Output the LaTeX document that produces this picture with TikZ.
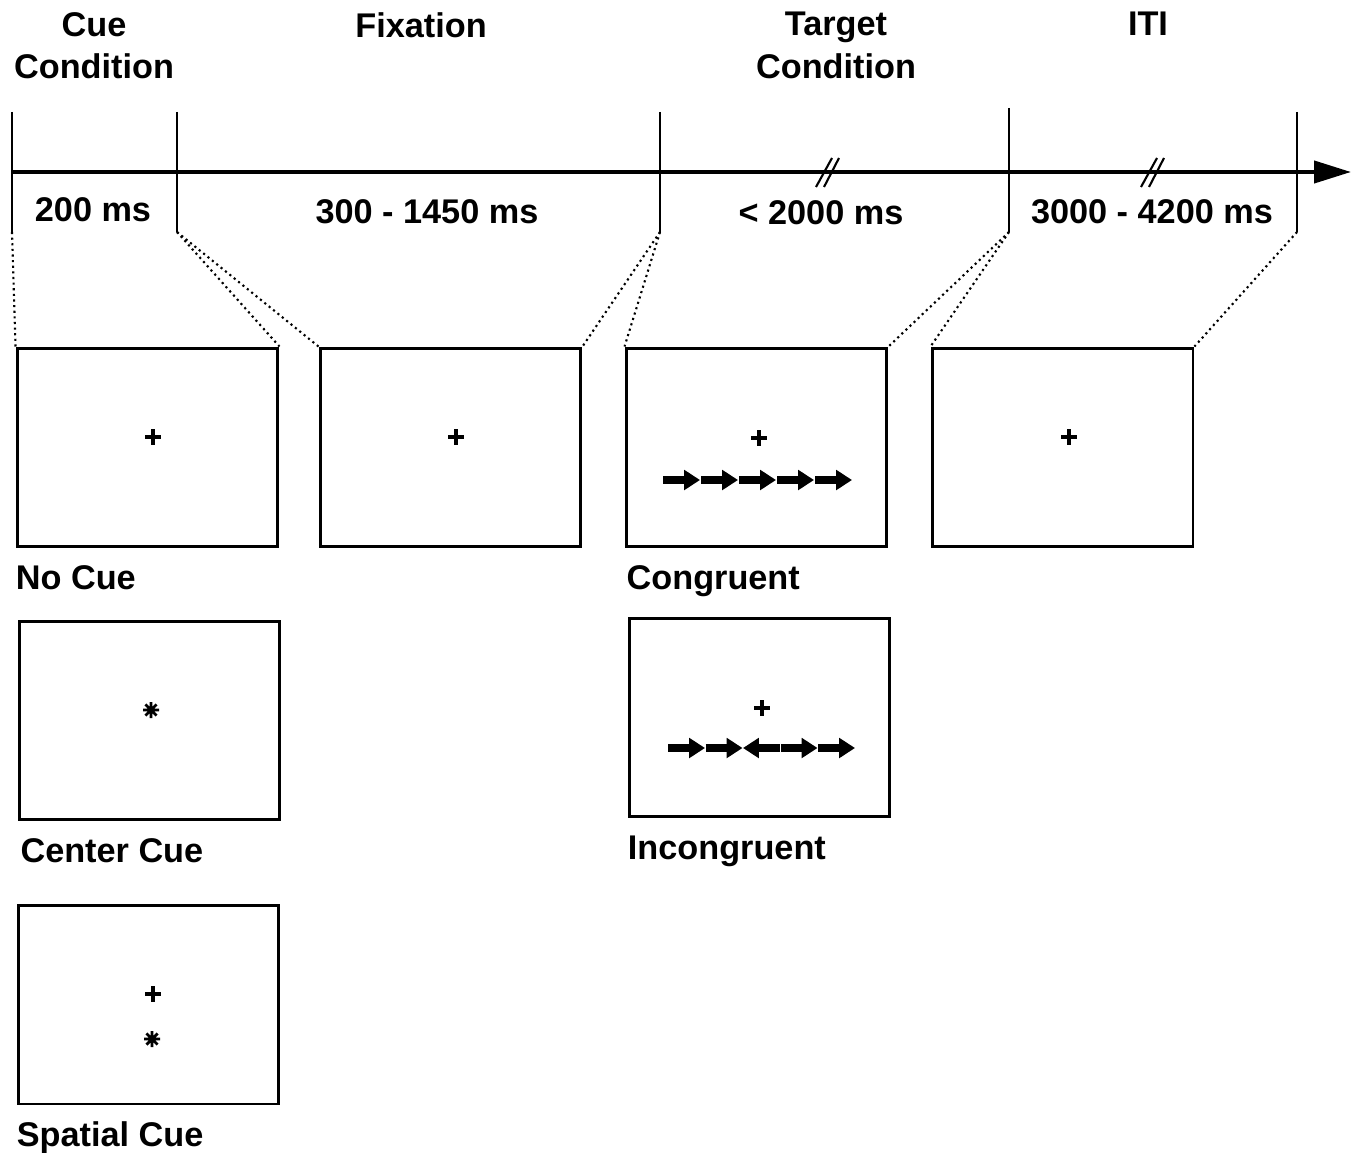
\documentclass[tikz,border=0pt]{standalone}
\usepackage{fontspec}
\setmainfont{Liberation Sans}
\usetikzlibrary{arrows.meta,calc}
\tikzset{
  screen/.style={draw=black, line width=1.7pt, minimum width=5.22cm, minimum height=3.98cm, inner sep=0pt},
  hdr/.style={font=\fontsize{19.5}{24}\selectfont\bfseries, align=center, anchor=north, inner sep=0pt},
  dur/.style={font=\fontsize{19.5}{24}\selectfont\bfseries, anchor=base, inner sep=0pt},
  scrlbl/.style={font=\fontsize{19.5}{24}\selectfont\bfseries, anchor=base west, inner sep=0pt},
  tickln/.style={line width=1.2pt},
  axis/.style={line width=2.3pt, -{Triangle[length=21pt,width=12.5pt]}},
  brk/.style={line width=1.2pt},
  zoomln/.style={dotted, line width=1.2pt},
  flk/.style={line width=4.3pt, -{Triangle[length=9pt,width=11pt]}},
  fixcross/.pic={\draw[line width=1.9pt] (-8,0) -- (8,0) (0,-8) -- (0,8);},
  cuestar/.pic={\draw[line width=1.6pt] (-8,0) -- (8,0) (0,-8) -- (0,8) (-5.6,-5.6) -- (5.6,5.6) (-5.6,5.6) -- (5.6,-5.6);},
}
\begin{document}
\begin{tikzpicture}[x=0.02cm, y=-0.02cm]
\useasboundingbox (0,0) rectangle (1358,1152);
% time axis with ticks
\coordinate (ax0) at (12,172);
\coordinate (ax1) at (1351,172);
\draw[axis] (ax0) -- (ax1);
\foreach \n/\x/\top in {0/12/112, 1/177/112, 2/660/112, 3/1009/108, 4/1297/112} {
  \coordinate (tk\n a) at (\x,\top);
  \coordinate (tk\n b) at (\x,232);
  \draw[tickln] (tk\n a) -- (tk\n b);
}
% breaks in the axis
\foreach \x in {828,1153}
  \draw[brk] (\x-12,187) -- (\x+4,158) (\x-4,187) -- (\x+11,158);
% phase headers
\node[hdr] (hcue) at (94,12)   {Cue\\Condition};
\node[hdr] (hfix) at (421,12)  {Fixation};
\node[hdr] (htgt) at (836,12)  {Target\\Condition};
\node[hdr] (hiti) at (1148,12) {ITI};
% durations
\node[dur] (dcue) at (93,221)   {200 ms};
\node[dur] (dfix) at (427,223)  {300 - 1450 ms};
\node[dur] (dtgt) at (821,224)  {< 2000 ms};
\node[dur] (diti) at (1152,223) {3000 - 4200 ms};
% screens
\node[screen] (nocue)  at (147.5,447.5)  {};
\node[screen] (fix)    at (450.5,447.5)  {};
\node[screen] (cong)   at (756.5,447.5)  {};
\node[screen] (iti)    at (1062.5,447.5) {};
\node[screen] (ccue)   at (149.5,720.5)  {};
\node[screen] (incong) at (759.5,717.5)  {};
\node[screen] (scue)   at (148.5,1004.5) {};
% zoom lines from the axis to the screens
\draw[zoomln] (tk0b) -- (nocue.north west);
\draw[zoomln] (tk1b) -- (nocue.north east);
\draw[zoomln] (tk1b) -- (fix.north west);
\draw[zoomln] (tk2b) -- (fix.north east);
\draw[zoomln] (tk2b) -- (cong.north west);
\draw[zoomln] (tk3b) -- (cong.north east);
\draw[zoomln] (tk3b) -- (iti.north west);
\draw[zoomln] (tk4b) -- (iti.north east);
% screen labels
\node[scrlbl] (lnocue)  at ([yshift=-0.82cm]nocue.south west)  {No Cue};
\node[scrlbl] (lccue)   at ([xshift=1.5pt,yshift=-0.82cm]ccue.south west)   {Center Cue};
\node[scrlbl] (lscue)   at ([yshift=-0.82cm]scue.south west)   {Spatial Cue};
\node[scrlbl] (lcong)   at ([xshift=1pt,yshift=-0.82cm]cong.south west)   {Congruent};
\node[scrlbl] (lincong) at ([yshift=-0.82cm]incong.south west) {Incongruent};
% fixation crosses and cues
\pic at (153,437)  {fixcross};
\pic at (456,437)  {fixcross};
\pic at (759,438)  {fixcross};
\pic at (1069,437) {fixcross};
\pic at (762,708)  {fixcross};
\pic at (153,994)  {fixcross};
\pic at (151,710)  {cuestar};
\pic at (152,1039) {cuestar};
% flankers
\foreach \i in {0,...,4}
  \draw[flk] (663+38*\i,480) -- (700+38*\i,480);
\foreach \i in {0,1,3,4}
  \draw[flk] (668+37.5*\i,748) -- (705+37.5*\i,748);
\draw[flk] (705+37.5*2,748) -- (668+37.5*2,748);
\end{tikzpicture}
\end{document}
